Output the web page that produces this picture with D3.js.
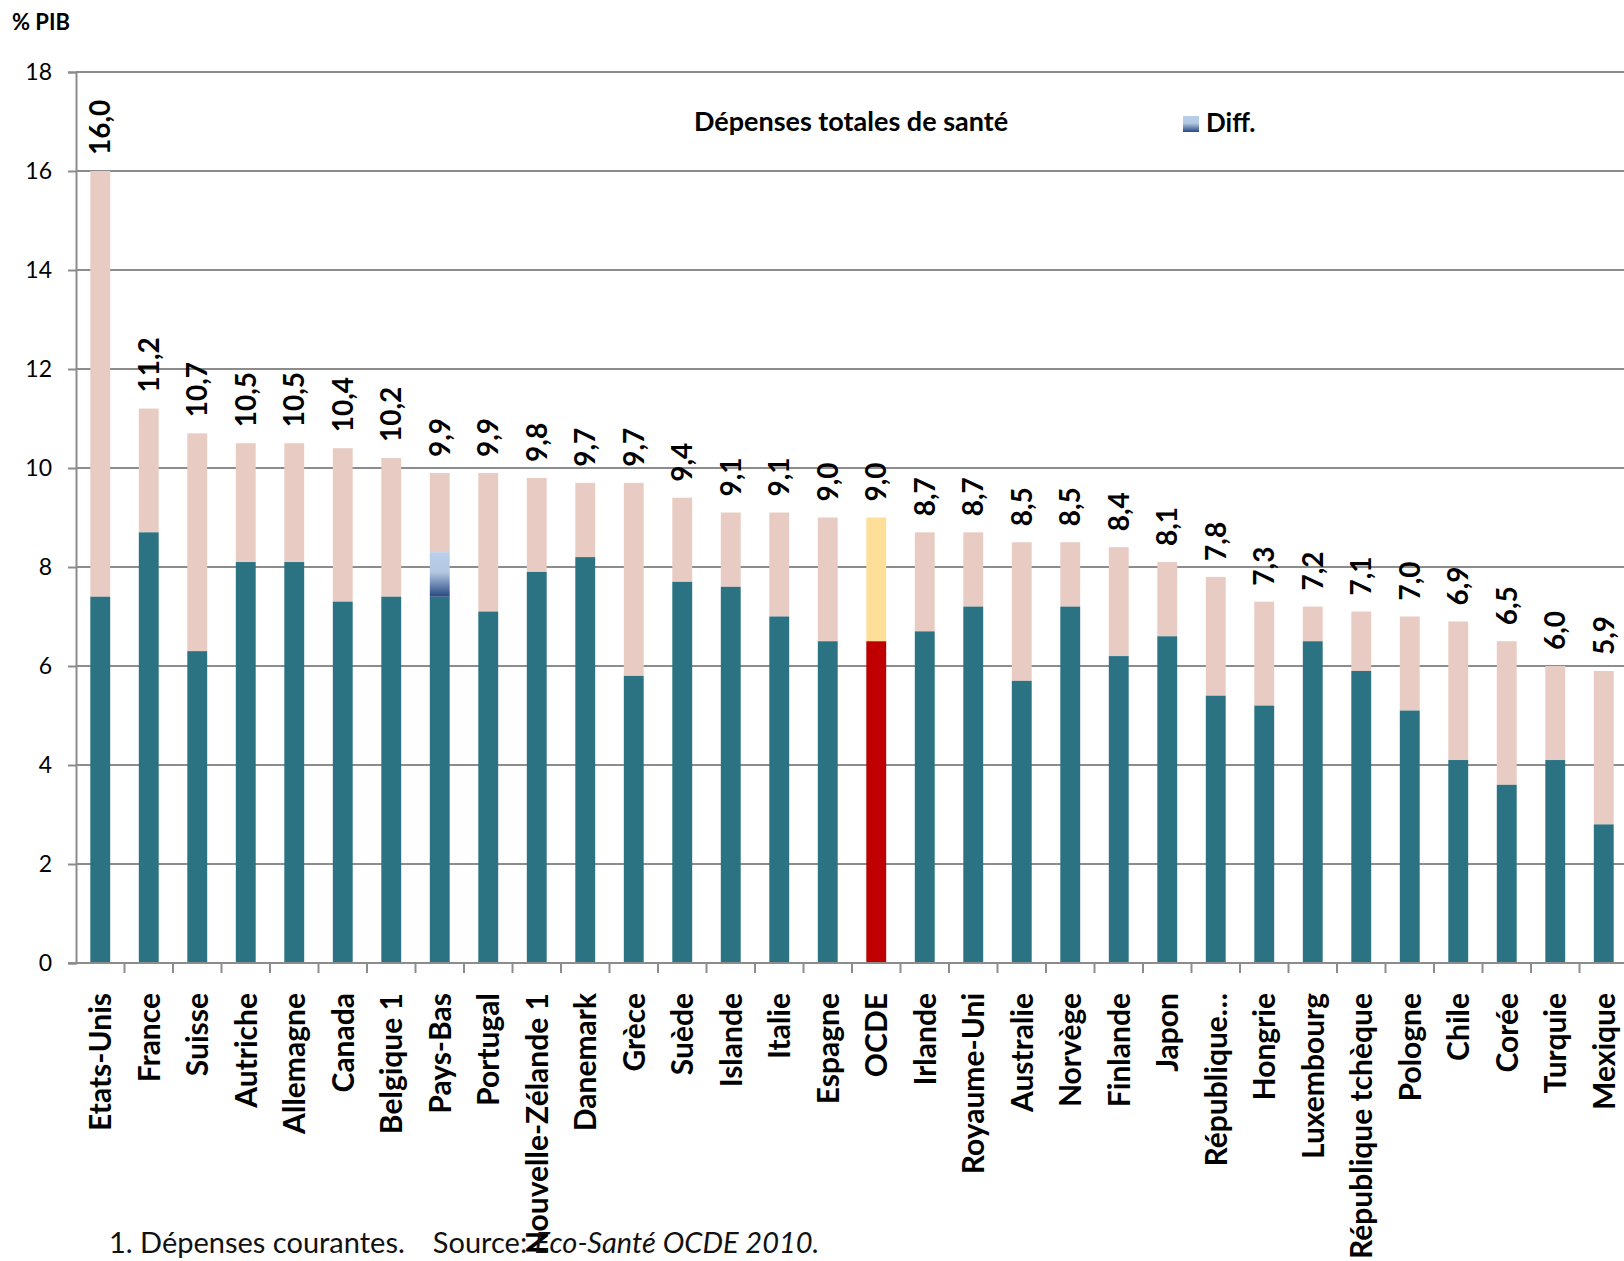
<!DOCTYPE html>
<html lang="fr">
<head>
<meta charset="utf-8">
<script src="https://cdn.jsdelivr.net/npm/d3@7"></script>
<style>
  html, body { margin: 0; padding: 0; background: #ffffff; }
  svg { display: block; font-family: Lato, "Open Sans", sans-serif; }
</style>
</head>
<body>
<svg id="chart" width="1624" height="1261"></svg>
<script>
// Dépenses totales de santé en % du PIB, 2008
const countries = ["Etats-Unis","France","Suisse","Autriche","Allemagne","Canada","Belgique 1","Pays-Bas","Portugal","Nouvelle-Zélande 1","Danemark","Grèce","Suède","Islande","Italie","Espagne","OCDE","Irlande","Royaume-Uni","Australie","Norvège","Finlande","Japon","République…","Hongrie","Luxembourg","République tchèque","Pologne","Chile","Corée","Turquie","Mexique"];
// total health spending (value printed above each bar)
const totals = [16.0,11.2,10.7,10.5,10.5,10.4,10.2,9.9,9.9,9.8,9.7,9.7,9.4,9.1,9.1,9.0,9.0,8.7,8.7,8.5,8.5,8.4,8.1,7.8,7.3,7.2,7.1,7.0,6.9,6.5,6.0,5.9];
// public share of spending (lower segment)
const publicShare = [7.4,8.7,6.3,8.1,8.1,7.3,7.4,7.4,7.1,7.9,8.2,5.8,7.7,7.6,7.0,6.5,6.5,6.7,7.2,5.7,7.2,6.2,6.6,5.4,5.2,6.5,5.9,5.1,4.1,3.6,4.1,2.8];
// unallocated difference ("Diff."), stacked above the public share
const diffShare = [0,0,0,0,0,0,0,0.9,0,0,0,0,0,0,0,0,0,0,0,0,0,0,0,0,0,0,0,0,0,0,0,0];
const yTicks = [0,2,4,6,8,10,12,14,16,18];
const highlight = "OCDE";

const svg = d3.select("#chart");
const plot = { left: 76, right: 1628, top: 72, bottom: 963 };

const x = d3.scaleBand().domain(countries).range([plot.left, plot.right]).padding(0);
const y = d3.scaleLinear().domain([0, 18]).range([plot.bottom, plot.top]);
const bw = x.bandwidth();
const barW = bw * 0.41;
const barX = c => x(c) + (bw - barW) / 2;

const grid = "#8c8c8c";

// y axis with left tick marks
svg.append("g")
  .attr("transform", `translate(${plot.left},0)`)
  .call(d3.axisLeft(y).tickValues(yTicks).tickSize(8).tickPadding(16).tickFormat(d3.format("d")))
  .call(g => g.select(".domain").attr("stroke", grid).attr("stroke-width", 2))
  .call(g => g.selectAll(".tick line").attr("stroke", grid).attr("stroke-width", 2))
  .call(g => g.selectAll(".tick text").attr("fill", "#000").attr("font-size", 23)
      .attr("font-family", "Lato, sans-serif"));

// horizontal gridlines
svg.append("g")
  .selectAll("line")
  .data(yTicks)
  .join("line")
  .attr("x1", plot.left).attr("x2", 1624)
  .attr("y1", d => y(d)).attr("y2", d => y(d))
  .attr("stroke", grid).attr("stroke-width", 2);

// stacked segments
const rows = countries.map((c, i) => ({
  c, total: totals[i], pub: publicShare[i], diff: diffShare[i]
}));

const bars = svg.append("g");
rows.forEach(r => {
  const isHi = r.c === highlight;
  const top1 = r.pub + r.diff;
  // upper (total minus public) segment
  bars.append("rect")
    .attr("x", barX(r.c)).attr("width", barW)
    .attr("y", y(r.total)).attr("height", y(top1) - y(r.total))
    .attr("fill", isHi ? "#fedf9a" : "#e8cbc2");
  // public segment
  bars.append("rect")
    .attr("x", barX(r.c)).attr("width", barW)
    .attr("y", y(r.pub)).attr("height", y(0) - y(r.pub))
    .attr("fill", isHi ? "#c00000" : "#2b7282");
});

// gradient for the "Diff." series
const defs = svg.append("defs");
const grad = defs.append("linearGradient").attr("id", "diffGrad")
  .attr("x1", 0).attr("y1", 0).attr("x2", 0).attr("y2", 1);
grad.append("stop").attr("offset", "0%").attr("stop-color", "#bacfea");
grad.append("stop").attr("offset", "45%").attr("stop-color", "#b3c7e2");
grad.append("stop").attr("offset", "100%").attr("stop-color", "#27487f");

bars.selectAll("rect.diff")
  .data(rows.filter(r => r.diff > 0))
  .join("rect")
  .attr("class", "diff")
  .attr("x", r => barX(r.c)).attr("width", barW)
  .attr("y", r => y(r.pub + r.diff))
  .attr("height", r => y(r.pub) - y(r.pub + r.diff))
  .attr("fill", "url(#diffGrad)");

// baseline and category ticks
svg.append("line")
  .attr("x1", plot.left - 8).attr("x2", 1624)
  .attr("y1", y(0)).attr("y2", y(0))
  .attr("stroke", grid).attr("stroke-width", 2);

svg.append("g")
  .selectAll("line")
  .data(countries.slice(1))
  .join("line")
  .attr("x1", c => x(c)).attr("x2", c => x(c))
  .attr("y1", y(0)).attr("y2", y(0) + 10)
  .attr("stroke", grid).attr("stroke-width", 2);

// category labels, rotated
svg.append("g")
  .selectAll("text")
  .data(countries)
  .join("text")
  .attr("transform", c => `translate(${x(c) + bw / 2},${y(0) + 30}) rotate(-90)`)
  .attr("text-anchor", "end")
  .attr("dy", "0.36em")
  .attr("font-size", 30).attr("font-weight", "bold")
  .attr("fill", "#000")
  .text(c => c);

// value labels above bars
const fmt = v => d3.format(".1f")(v).replace(".", ",");
svg.append("g")
  .selectAll("text")
  .data(rows)
  .join("text")
  .attr("transform", r => `translate(${x(r.c) + bw / 2},${y(r.total) - 16}) rotate(-90)`)
  .attr("text-anchor", "start")
  .attr("dy", "0.36em")
  .attr("font-size", 28).attr("font-weight", "bold")
  .attr("fill", "#000")
  .text(r => fmt(r.total));

// unit label
svg.append("text")
  .attr("x", 12).attr("y", 30)
  .attr("font-size", 22).attr("font-weight", "bold")
  .text("% PIB");

// legend
svg.append("text")
  .attr("x", 851).attr("y", 131)
  .attr("text-anchor", "middle")
  .attr("font-size", 27).attr("font-weight", "bold")
  .text("Dépenses totales de santé");

svg.append("rect")
  .attr("x", 1183).attr("y", 116).attr("width", 16).attr("height", 16)
  .attr("fill", "url(#diffGrad)");
svg.append("text")
  .attr("x", 1206).attr("y", 132)
  .attr("font-size", 26).attr("font-weight", "bold")
  .text("Diff.");

// footnote
const note = svg.append("text")
  .attr("x", 109).attr("y", 1253)
  .attr("font-size", 29)
  .attr("font-family", "'Gill Sans', 'Lato', sans-serif")
  .attr("fill", "#111");
note.append("tspan").text("1. Dépenses courantes.");
note.append("tspan").attr("dx", 28).text("Source: ");
note.append("tspan").attr("font-style", "italic").text("Eco-Santé OCDE 2010.");
</script>
</body>
</html>
